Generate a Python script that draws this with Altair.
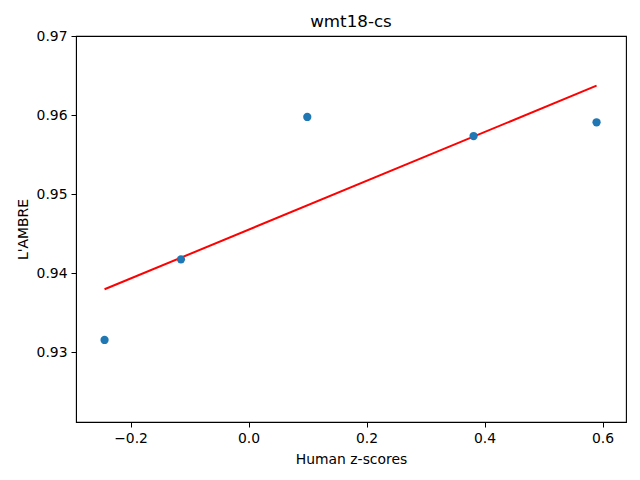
import altair as alt
import pandas as pd

human_z = [-0.2441, -0.1146, 0.0995, 0.3814, 0.5898]
lambre = [0.93152, 0.94173, 0.95975, 0.95734, 0.95908]
x_ticks = [-0.2, 0.0, 0.2, 0.4, 0.6]
y_ticks = [0.93, 0.94, 0.95, 0.96, 0.97]

df = pd.DataFrame({"x": human_z, "y": lambre})

FONT = "DejaVu Sans"

xscale = alt.Scale(domain=[-0.2925, 0.6397], nice=False, zero=False)
yscale = alt.Scale(domain=[0.92114, 0.9700], nice=False, zero=False)

xaxis = alt.Axis(values=x_ticks, format=".1f", title="Human z-scores", grid=False,
                 tickSize=5, labelPadding=4, titlePadding=8,
                 labelFont=FONT, titleFont=FONT, labelFontSize=13.9, titleFontSize=13.9,
                 titleFontWeight="normal", labelColor="black", titleColor="black",
                 domainColor="black", tickColor="black")
yaxis = alt.Axis(values=y_ticks, format=".2f", title="L'AMBRE", grid=False,
                 tickSize=5, labelPadding=4, titlePadding=6,
                 labelFont=FONT, titleFont=FONT, labelFontSize=13.9, titleFontSize=13.9,
                 titleFontWeight="normal", labelColor="black", titleColor="black",
                 domainColor="black", tickColor="black")

line = alt.Chart(df).transform_regression("x", "y").mark_line(color="red", strokeWidth=2).encode(
    x=alt.X("x:Q", scale=xscale, axis=xaxis),
    y=alt.Y("y:Q", scale=yscale, axis=yaxis),
)

points = alt.Chart(df).mark_circle(size=68, color="#1f77b4", opacity=1).encode(
    x=alt.X("x:Q", scale=xscale),
    y=alt.Y("y:Q", scale=yscale),
)

chart = alt.layer(line, points).properties(
    width=550,
    height=386,
    background="white",
    title=alt.TitleParams("wmt18-cs", font=FONT, fontSize=16.7, fontWeight="normal",
                          color="black", anchor="middle", frame="group",
                          offset=7, dy=9),
    autosize=alt.AutoSizeParams(type="none"),
    padding={"left": 68, "top": 28, "right": 6, "bottom": 50},
).configure_view(stroke="black", strokeWidth=1.1)

chart.save("out.html", embed_options={"renderer": "svg", "actions": False})
